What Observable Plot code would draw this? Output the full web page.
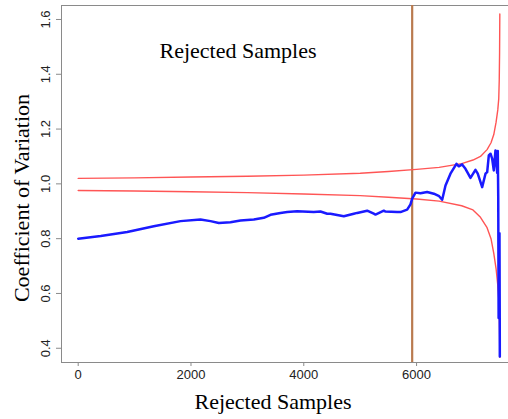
<!DOCTYPE html>
<html>
<head>
<meta charset="utf-8">
<script src="https://cdn.jsdelivr.net/npm/d3@7"></script>
<script src="https://cdn.jsdelivr.net/npm/@observablehq/plot@0.6"></script>
<style>
  html, body { margin: 0; padding: 0; background: #fff; }
</style>
</head>
<body>
<div id="chart"></div>
<script>
const xTicks = [0, 2000, 4000, 6000];
const yTicks = [0.4, 0.6, 0.8, 1.0, 1.2, 1.4, 1.6];
const cutoff = 5922;
const titleText = "Rejected Samples";
const xLabel = "Rejected Samples";
const yLabel = "Coefficient of Variation";

const upperX = [0, 1000, 2000, 3000, 4000, 5000, 5500, 6000, 6400, 6800, 7000, 7133, 7250, 7320, 7369, 7410, 7440, 7457, 7466, 7472, 7476];
const upperY = [1.020, 1.022, 1.025, 1.028, 1.032, 1.039, 1.045, 1.053, 1.060, 1.074, 1.087, 1.100, 1.125, 1.150, 1.180, 1.225, 1.270, 1.310, 1.380, 1.480, 1.620];

const lowerX = [0, 1000, 2000, 3000, 4000, 5000, 5500, 6000, 6400, 6800, 7000, 7133, 7250, 7320, 7369, 7410, 7440, 7457, 7466, 7472, 7476];
const lowerY = [0.976, 0.974, 0.971, 0.968, 0.963, 0.957, 0.951, 0.945, 0.937, 0.920, 0.905, 0.878, 0.840, 0.800, 0.746, 0.690, 0.630, 0.580, 0.520, 0.450, 0.367];

const blueX = [0, 400, 869, 1340, 1814, 2168, 2346, 2493, 2700, 2878, 3114, 3291, 3410, 3587, 3706, 3883, 4177, 4296, 4415, 4473, 4710, 4887, 4947, 5124, 5241, 5271, 5419, 5449, 5656, 5714, 5833, 5892, 5922, 5981, 6069, 6188, 6306, 6400, 6454, 6513, 6601, 6707, 6749, 6808, 6867, 6956, 7044, 7085, 7163, 7222, 7252, 7281, 7311, 7340, 7369, 7399, 7429, 7440, 7448, 7452, 7455, 7460, 7465, 7470, 7474, 7476];
const blueY = [0.800, 0.810, 0.824, 0.845, 0.864, 0.870, 0.864, 0.857, 0.860, 0.866, 0.870, 0.876, 0.887, 0.894, 0.897, 0.900, 0.897, 0.899, 0.891, 0.891, 0.882, 0.891, 0.894, 0.902, 0.891, 0.888, 0.902, 0.899, 0.897, 0.897, 0.906, 0.925, 0.946, 0.968, 0.966, 0.970, 0.964, 0.955, 0.942, 0.994, 1.037, 1.073, 1.064, 1.071, 1.055, 1.022, 1.051, 1.037, 0.988, 1.037, 1.043, 1.104, 1.110, 1.092, 1.049, 1.122, 1.040, 1.120, 0.950, 0.700, 0.510, 0.600, 0.820, 0.820, 0.550, 0.370];

const xDomain = [-296, 7630];
const yDomain = [0.348, 1.651];

const toRows = (xs, ys) => xs.map((x, i) => ({x, y: ys[i]}));
const upper = toRows(upperX, upperY);
const lower = toRows(lowerX, lowerY);
const blue = toRows(blueX, blueY);

const frameColor = "#8a8a8a";

const chart = Plot.plot({
  width: 508,
  height: 419,
  marginLeft: 61,
  marginRight: 0,
  marginTop: 5,
  marginBottom: 57,
  x: {domain: xDomain},
  y: {domain: yDomain},
  style: {fontFamily: "'Liberation Sans', Arial, sans-serif", background: "#fff", overflow: "visible"},
  marks: [
    Plot.ruleY([yDomain[1]], {stroke: frameColor, strokeWidth: 1}),
    Plot.ruleY([yDomain[0]], {stroke: frameColor, strokeWidth: 1}),
    Plot.ruleX([xDomain[0]], {stroke: frameColor, strokeWidth: 1}),
    Plot.axisX({ticks: xTicks, tickSize: 4, tickPadding: 3, fontSize: 13, label: null, stroke: frameColor, fill: "#222", tickFormat: d => String(d)}),
    Plot.axisY({ticks: yTicks, tickSize: 5, label: null, stroke: frameColor, tickFormat: () => ""}),
    Plot.text(yTicks, {y: d => d, frameAnchor: "left", dx: -16, rotate: -90, text: d => d.toFixed(1), textAnchor: "middle", lineAnchor: "middle", fontSize: 13, fill: "#222"}),
    Plot.ruleX([cutoff], {stroke: "#b97a4e", strokeWidth: 2.2}),
    Plot.line(upper, {x: "x", y: "y", stroke: "#ff5555", strokeWidth: 1.4}),
    Plot.line(lower, {x: "x", y: "y", stroke: "#ff5555", strokeWidth: 1.4}),
    Plot.line(blue, {x: "x", y: "y", stroke: "#1a1aff", strokeWidth: 2.5, strokeLinejoin: "round"})
  ]
});

document.getElementById("chart").appendChild(chart);

const svg = d3.select(chart);
const serif = "'Liberation Serif', 'Times New Roman', Times, serif";
svg.append("text")
  .attr("x", 238).attr("y", 58)
  .attr("text-anchor", "middle")
  .attr("font-family", serif).attr("font-size", 22).attr("fill", "#000")
  .text(titleText);
svg.append("text")
  .attr("x", 273).attr("y", 409)
  .attr("text-anchor", "middle")
  .attr("font-family", serif).attr("font-size", 22).attr("fill", "#000")
  .text(xLabel);
svg.append("text")
  .attr("transform", "translate(29,198) rotate(-90)")
  .attr("text-anchor", "middle")
  .attr("font-family", serif).attr("font-size", 22).attr("fill", "#000")
  .text(yLabel);
</script>
</body>
</html>
